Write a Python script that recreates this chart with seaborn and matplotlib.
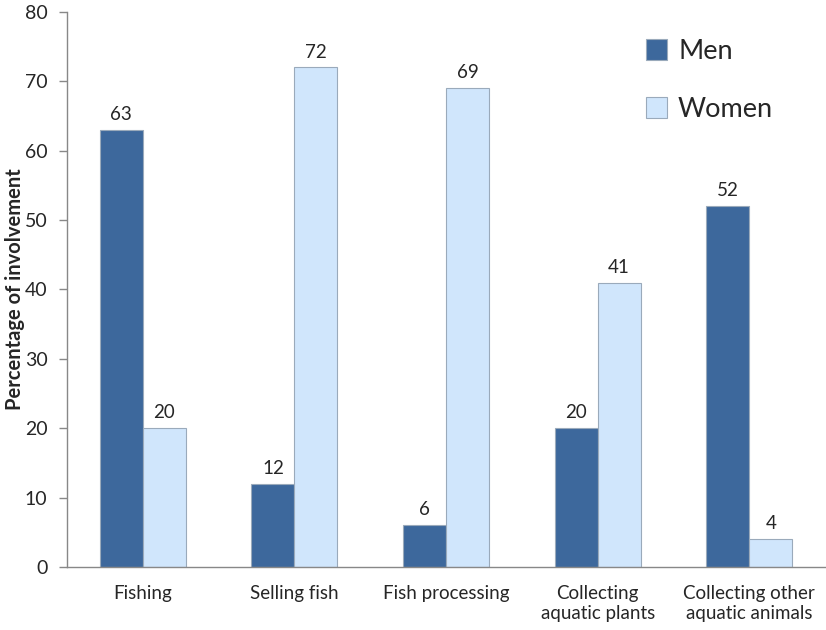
import numpy as np
import pandas as pd
import seaborn as sns
from matplotlib import pyplot as plt

categorias = ['Fishing', 'Selling fish', 'Fish processing',
              'Collecting\naquatic plants', 'Collecting other\naquatic animals']
hombres = [63, 12, 6, 20, 52]
mujeres = [20, 72, 69, 41, 4]
grupos = ['Men', 'Women']

df_ = pd.DataFrame({
    'actividad': categorias * 2,
    'grupo': ['Men'] * len(categorias) + ['Women'] * len(categorias),
    'valor': hombres + mujeres,
})

sns.set_style('white')
plt.rcParams['font.family'] = ['Lato', 'DejaVu Sans']

fig = plt.figure(figsize=(8.26, 6.3), dpi=100)
ax = fig.add_axes([0.081, 0.1, 0.918, 0.881])

colores = {'Men': '#3D689C', 'Women': '#D0E6FC'}
sns.barplot(data=df_, x='actividad', y='valor', hue='grupo', hue_order=grupos,
            order=categorias, palette=colores, width=0.566, dodge=True,
            saturation=1, edgecolor='#9AAABB', linewidth=0.8, ax=ax)

for cont in ax.containers:
    ax.bar_label(cont, fmt='%d', padding=5, fontsize=13.5)

ax.set_xlim(-0.5, 4.5)
ax.set_ylim(0, 80)
ax.set_yticks(range(0, 81, 10))
ax.set_xticks(np.arange(-0.5, 4.6, 1), minor=True)
ax.tick_params(axis='x', which='major', length=0, labelsize=13.5, pad=13)
ax.tick_params(axis='x', which='minor', length=6, color='#888888', width=1)
ax.tick_params(axis='y', length=6, color='#888888', width=1, labelsize=14, pad=8, left=True)
ax.set_xlabel('')
ax.set_ylabel('Percentage of involvement', fontsize=14.5, fontweight='bold')
ax.yaxis.set_label_coords(-0.055, 0.5)

for s in ['top', 'right']:
    ax.spines[s].set_visible(False)
for s in ['left', 'bottom']:
    ax.spines[s].set_color('#888888')
    ax.spines[s].set_linewidth(1)

leg = ax.legend(loc='upper left', bbox_to_anchor=(0.731, 0.995), frameon=False,
                fontsize=19.5, labelspacing=1.2, handlelength=0.8, handleheight=0.8,
                handletextpad=0.4)

fig.savefig('out.png', dpi=100)
